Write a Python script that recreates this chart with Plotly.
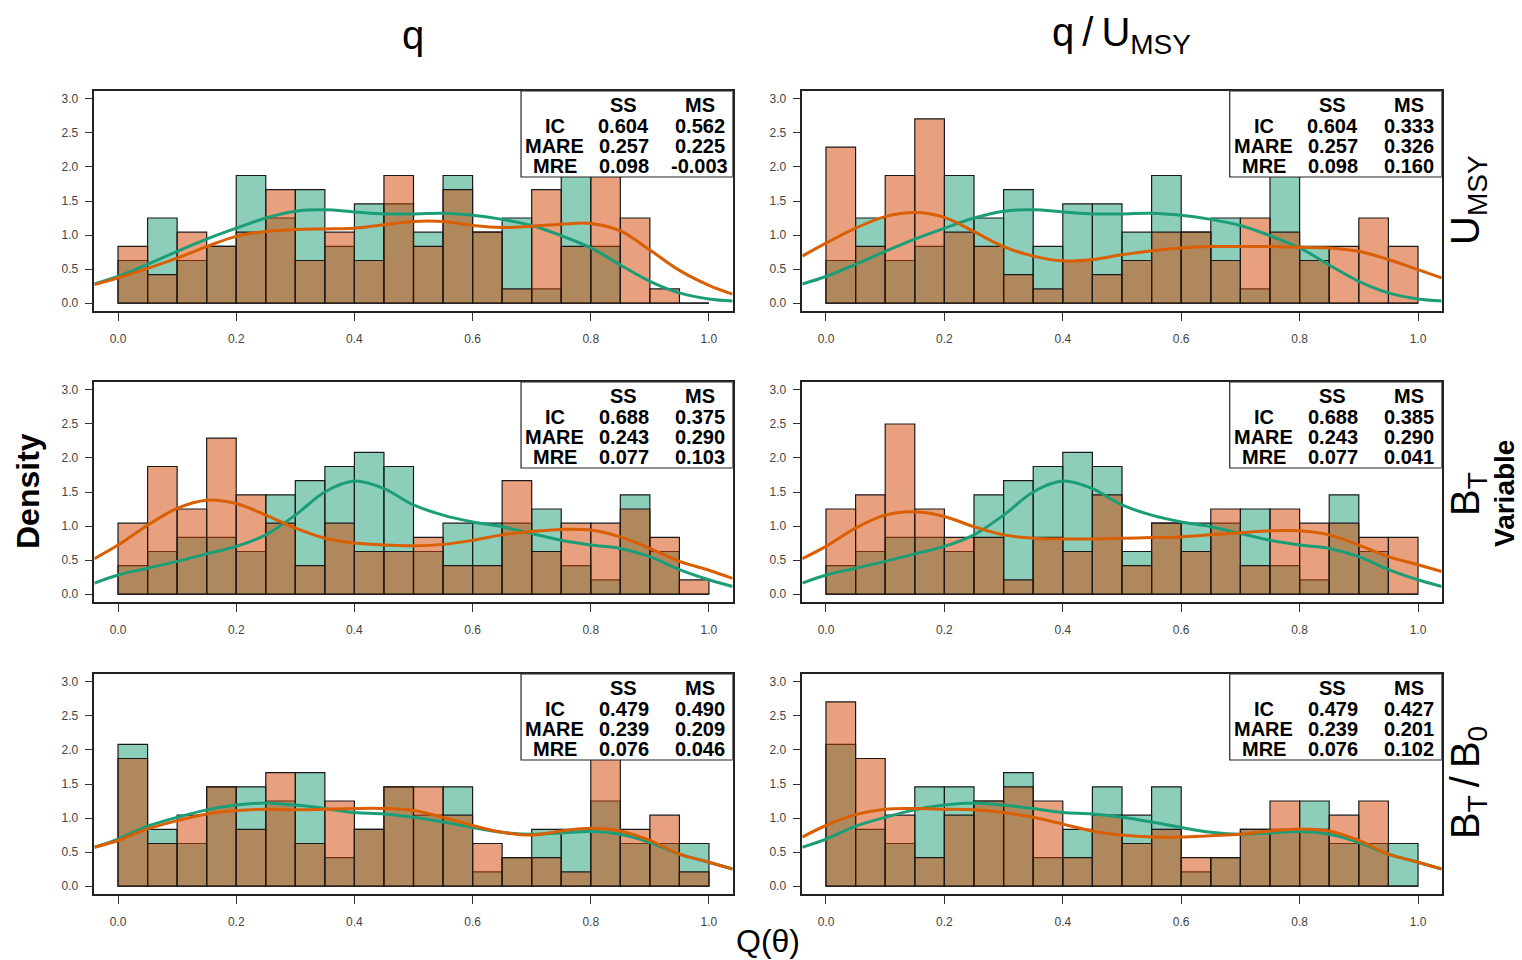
import plotly.graph_objects as go

# ---------------- data ----------------
BIN_LEFT = [0.00, 0.05, 0.10, 0.15, 0.20, 0.25, 0.30, 0.35, 0.40, 0.45,
            0.50, 0.55, 0.60, 0.65, 0.70, 0.75, 0.80, 0.85, 0.90, 0.95]
BIN_WIDTH = 0.05

# histogram densities (green = SS, orange = MS)
SS_UMSY = [0.625, 1.25, 0.625, 0.833, 1.875, 1.25, 1.667, 0.833, 1.458, 1.458,
           1.042, 1.875, 1.042, 1.25, 0.208, 1.875, 0.833, 0, 0, 0]
MS_UMSY_Q = [0.833, 0.417, 1.042, 0.833, 1.042, 1.667, 0.625, 1.042, 0.625, 1.875,
             0.833, 1.667, 1.042, 0.208, 1.667, 0.833, 2.292, 1.25, 0.208, 0]
MS_UMSY_QU = [2.292, 0.833, 1.875, 2.708, 1.042, 0.833, 0.417, 0.208, 0.625, 0.417,
              0.625, 1.042, 1.042, 0.625, 1.25, 1.042, 0.625, 0.833, 1.25, 0.833]

SS_BT = [0.417, 0.625, 0.833, 0.833, 0.625, 1.458, 1.667, 1.875, 2.083, 1.875,
         0.625, 1.042, 1.042, 1.042, 1.25, 0.417, 0.208, 1.458, 0.625, 0]
MS_BT_Q = [1.042, 1.875, 1.25, 2.292, 1.458, 1.042, 0.417, 1.042, 0.625, 0.625,
           0.833, 0.417, 0.417, 1.667, 0.625, 1.042, 1.042, 1.25, 0.833, 0.208]
MS_BT_QU = [1.25, 1.458, 2.5, 1.25, 0.833, 0.833, 0.208, 0.833, 0.625, 1.458,
            0.417, 1.042, 0.625, 1.25, 0.417, 1.25, 1.042, 1.042, 0.833, 0.833]

SS_B0 = [2.083, 0.833, 0.625, 1.458, 1.458, 1.25, 1.667, 0.417, 0.833, 1.458,
         1.042, 1.458, 0.208, 0.417, 0.833, 0.833, 1.25, 0.625, 0.625, 0.625]
MS_B0_Q = [1.875, 0.625, 1.042, 1.458, 0.833, 1.667, 0.625, 1.25, 0.833, 1.458,
           1.458, 1.042, 0.625, 0.417, 0.417, 0.208, 2.083, 0.833, 1.042, 0.208]
MS_B0_QU = [2.708, 1.875, 1.042, 0.417, 1.042, 1.25, 1.458, 1.25, 0.417, 1.042,
            0.625, 0.833, 0.417, 0.417, 0.833, 1.25, 0.833, 1.042, 1.25, 0]

# density curves, read at these x positions
X_GRID = [-0.04, 0.00, 0.05, 0.10, 0.15, 0.20, 0.25, 0.30, 0.35, 0.40, 0.45, 0.50,
          0.55, 0.60, 0.65, 0.70, 0.75, 0.80, 0.85, 0.90, 0.95, 1.00, 1.04]
KDE_SS_UMSY = [0.28, 0.39, 0.57, 0.76, 0.94, 1.10, 1.25, 1.35, 1.37, 1.34, 1.31, 1.31,
               1.32, 1.29, 1.23, 1.14, 0.99, 0.81, 0.56, 0.32, 0.15, 0.06, 0.03]
KDE_MS_UMSY_Q = [0.27, 0.37, 0.51, 0.66, 0.83, 0.98, 1.05, 1.08, 1.09, 1.10, 1.15, 1.20,
                 1.20, 1.14, 1.11, 1.13, 1.16, 1.17, 1.06, 0.78, 0.48, 0.26, 0.13]
KDE_MS_UMSY_QU = [0.69, 0.88, 1.10, 1.27, 1.33, 1.26, 1.05, 0.83, 0.69, 0.62, 0.64, 0.71,
                  0.77, 0.81, 0.83, 0.83, 0.83, 0.82, 0.81, 0.76, 0.64, 0.49, 0.37]
KDE_SS_BT = [0.16, 0.28, 0.38, 0.48, 0.59, 0.70, 0.87, 1.16, 1.50, 1.66, 1.55, 1.31,
             1.16, 1.06, 0.99, 0.89, 0.79, 0.72, 0.67, 0.55, 0.36, 0.21, 0.11]
KDE_MS_BT_Q = [0.52, 0.72, 1.01, 1.26, 1.38, 1.33, 1.16, 0.97, 0.82, 0.75, 0.72, 0.71,
               0.73, 0.79, 0.87, 0.92, 0.95, 0.94, 0.84, 0.67, 0.48, 0.35, 0.23]
KDE_MS_BT_QU = [0.52, 0.70, 0.97, 1.16, 1.21, 1.14, 0.99, 0.87, 0.82, 0.81, 0.81, 0.82,
                0.83, 0.84, 0.87, 0.90, 0.93, 0.93, 0.87, 0.72, 0.55, 0.43, 0.33]
KDE_SS_B0 = [0.57, 0.69, 0.88, 1.01, 1.12, 1.19, 1.22, 1.19, 1.14, 1.08, 1.06, 1.01,
             0.94, 0.86, 0.79, 0.76, 0.78, 0.80, 0.76, 0.64, 0.47, 0.35, 0.25]
KDE_MS_B0_Q = [0.57, 0.67, 0.84, 0.96, 1.06, 1.11, 1.13, 1.12, 1.13, 1.14, 1.14, 1.11,
               1.01, 0.89, 0.79, 0.75, 0.81, 0.85, 0.81, 0.67, 0.47, 0.35, 0.25]
KDE_MS_B0_QU = [0.72, 0.89, 1.05, 1.13, 1.14, 1.13, 1.12, 1.08, 1.01, 0.91, 0.81, 0.75,
                0.72, 0.72, 0.74, 0.76, 0.81, 0.84, 0.81, 0.67, 0.47, 0.35, 0.25]

# statistics tables
STAT_ROWS = ["IC", "MARE", "MRE"]
SS_STATS_UMSY = ["0.604", "0.257", "0.098"]
SS_STATS_BT = ["0.688", "0.243", "0.077"]
SS_STATS_B0 = ["0.479", "0.239", "0.076"]
MS_STATS = [
    ["0.562", "0.225", "-0.003"],
    ["0.333", "0.326", "0.160"],
    ["0.375", "0.290", "0.103"],
    ["0.385", "0.290", "0.041"],
    ["0.490", "0.209", "0.046"],
    ["0.427", "0.201", "0.102"],
]

PANELS = [
    (SS_UMSY, MS_UMSY_Q, KDE_SS_UMSY, KDE_MS_UMSY_Q, SS_STATS_UMSY, MS_STATS[0]),
    (SS_UMSY, MS_UMSY_QU, KDE_SS_UMSY, KDE_MS_UMSY_QU, SS_STATS_UMSY, MS_STATS[1]),
    (SS_BT, MS_BT_Q, KDE_SS_BT, KDE_MS_BT_Q, SS_STATS_BT, MS_STATS[2]),
    (SS_BT, MS_BT_QU, KDE_SS_BT, KDE_MS_BT_QU, SS_STATS_BT, MS_STATS[3]),
    (SS_B0, MS_B0_Q, KDE_SS_B0, KDE_MS_B0_Q, SS_STATS_B0, MS_STATS[4]),
    (SS_B0, MS_B0_QU, KDE_SS_B0, KDE_MS_B0_QU, SS_STATS_B0, MS_STATS[5]),
]

# ---------------- styling ----------------
W, H = 1522, 960
GREEN = "#1b9e77"
ORANGE = "#d95f02"
GREEN_FILL = "rgba(27,158,119,0.5)"
ORANGE_FILL = "rgba(211,65,0,0.5)"
FONT = "Liberation Sans, Arial, Helvetica, sans-serif"

COL_DOM = [[94.4 / W, 732.6 / W], [802.3 / W, 1441.7 / W]]
ROW_DOM = [[1 - 311.2 / H, 1 - 90.8 / H],
           [1 - 602.2 / H, 1 - 381.8 / H],
           [1 - 894.2 / H, 1 - 673.8 / H]]
XR = [-0.04, 1.04]
YR = [-0.12, 3.12]

fig = go.Figure()
layout = dict(
    width=W, height=H,
    margin=dict(l=0, r=0, t=0, b=0),
    paper_bgcolor="white", plot_bgcolor="white",
    showlegend=False, barmode="overlay",
    font=dict(family=FONT, color="#000"),
)
shapes = []
annotations = []

for i, (ss, ms, kss, kms, sst, mst) in enumerate(PANELS):
    r, c = divmod(i, 2)
    n = i + 1
    xa = "x" if n == 1 else f"x{n}"
    ya = "y" if n == 1 else f"y{n}"
    fig.add_trace(go.Bar(x=BIN_LEFT, y=ss, width=BIN_WIDTH, offset=0,
                         marker=dict(color=GREEN_FILL, line=dict(color="#1a1a1a", width=1.2)),
                         xaxis=xa, yaxis=ya))
    fig.add_trace(go.Bar(x=BIN_LEFT, y=ms, width=BIN_WIDTH, offset=0,
                         marker=dict(color=ORANGE_FILL, line=dict(color="#1a1a1a", width=1.2)),
                         xaxis=xa, yaxis=ya))
    fig.add_trace(go.Scatter(x=X_GRID, y=kss, mode="lines",
                             line=dict(color=GREEN, width=3, shape="spline", smoothing=1.0),
                             xaxis=xa, yaxis=ya, cliponaxis=True))
    fig.add_trace(go.Scatter(x=X_GRID, y=kms, mode="lines",
                             line=dict(color=ORANGE, width=3, shape="spline", smoothing=1.0),
                             xaxis=xa, yaxis=ya, cliponaxis=True))

    axkey = "xaxis" if n == 1 else f"xaxis{n}"
    aykey = "yaxis" if n == 1 else f"yaxis{n}"
    layout[axkey] = dict(
        domain=COL_DOM[c], anchor=ya, range=XR, fixedrange=True,
        showgrid=False, zeroline=False,
        showline=True, mirror=True, linecolor="#222", linewidth=1.5,
        ticks="outside", ticklen=8, tickwidth=1, tickcolor="#333",
        tickvals=[0, 0.2, 0.4, 0.6, 0.8, 1.0],
        ticktext=["0.0", "0.2", "0.4", "0.6", "0.8", "1.0"],
        tickfont=dict(size=12, color="#444"), ticklabelstandoff=8,
    )
    layout[aykey] = dict(
        domain=ROW_DOM[r], anchor=xa, range=YR, fixedrange=True,
        showgrid=False, zeroline=False,
        showline=True, mirror=True, linecolor="#222", linewidth=1.5,
        ticks="outside", ticklen=8, tickwidth=1, tickcolor="#333",
        tickvals=[0, 0.5, 1.0, 1.5, 2.0, 2.5, 3.0],
        ticktext=["0.0", "0.5", "1.0", "1.5", "2.0", "2.5", "3.0"],
        tickfont=dict(size=12, color="#444"), ticklabelstandoff=4,
    )

    # stats table box
    shapes.append(dict(type="rect", xref=xa, yref=ya, x0=0.682, x1=1.04,
                       y0=1.853, y1=3.12, fillcolor="white",
                       line=dict(color="#222", width=1.2), layer="above"))
    tf = dict(family=FONT, size=20, color="#000")
    ys = [2.905, 2.606, 2.307, 2.008]
    annotations.append(dict(x=0.856, y=ys[0], xref=xa, yref=ya, text="<b>SS</b>",
                            showarrow=False, font=tf, xanchor="center", yanchor="middle"))
    annotations.append(dict(x=0.984, y=ys[0], xref=xa, yref=ya, text="<b>MS</b>",
                            showarrow=False, font=tf, xanchor="center", yanchor="middle"))
    for k in range(3):
        annotations.append(dict(x=0.739, y=ys[k + 1], xref=xa, yref=ya,
                                text=f"<b>{STAT_ROWS[k]}</b>", showarrow=False, font=tf,
                                xanchor="center", yanchor="middle"))
        annotations.append(dict(x=0.856, y=ys[k + 1], xref=xa, yref=ya,
                                text=f"<b>{sst[k]}</b>", showarrow=False, font=tf,
                                xanchor="center", yanchor="middle"))
        annotations.append(dict(x=0.984, y=ys[k + 1], xref=xa, yref=ya,
                                text=f"<b>{mst[k]}</b>", showarrow=False, font=tf,
                                xanchor="center", yanchor="middle"))

# column titles
annotations.append(dict(x=413 / W, y=1 - 35 / H, xref="paper", yref="paper", text="q",
                        showarrow=False, font=dict(size=40, family=FONT),
                        xanchor="center", yanchor="middle"))
annotations.append(dict(x=1121 / W, y=1 - 35 / H, xref="paper", yref="paper",
                        text="q\u2009/\u2009U<sub>MSY</sub>",
                        showarrow=False, font=dict(size=40, family=FONT),
                        xanchor="center", yanchor="middle"))
# row labels
annotations.append(dict(x=1468 / W, y=1 - 200 / H, xref="paper", yref="paper",
                        text="U<sub>MSY</sub>", textangle=-90,
                        showarrow=False, font=dict(size=40, family=FONT),
                        xanchor="center", yanchor="middle"))
annotations.append(dict(x=1468 / W, y=1 - 494 / H, xref="paper", yref="paper",
                        text="B<sub>T</sub>", textangle=-90,
                        showarrow=False, font=dict(size=40, family=FONT),
                        xanchor="center", yanchor="middle"))
annotations.append(dict(x=1505 / W, y=1 - 494 / H, xref="paper", yref="paper",
                        text="<b>Variable</b>", textangle=-90,
                        showarrow=False, font=dict(size=28, family=FONT),
                        xanchor="center", yanchor="middle"))
annotations.append(dict(x=1468 / W, y=1 - 783 / H, xref="paper", yref="paper",
                        text="B<sub>T</sub>\u2009/\u2009B<sub>0</sub>", textangle=-90,
                        showarrow=False, font=dict(size=40, family=FONT),
                        xanchor="center", yanchor="middle"))
# axis titles
annotations.append(dict(x=28 / W, y=1 - 491 / H, xref="paper", yref="paper",
                        text="<b>Density</b>", textangle=-90,
                        showarrow=False, font=dict(size=32, family=FONT),
                        xanchor="center", yanchor="middle"))
annotations.append(dict(x=768 / W, y=1 - 941 / H, xref="paper", yref="paper",
                        text="Q(\u03b8)",
                        showarrow=False, font=dict(size=32, family=FONT),
                        xanchor="center", yanchor="middle"))

layout["shapes"] = shapes
layout["annotations"] = annotations
fig.update_layout(**layout)
fig.write_html("out.html")
